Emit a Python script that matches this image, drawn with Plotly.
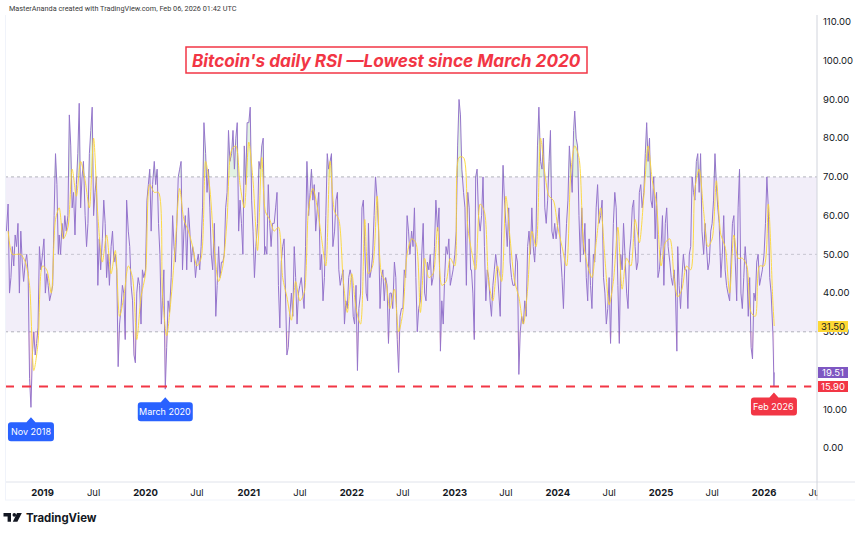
import numpy as np
import plotly.graph_objects as go

# ---------------- data ----------------
DAYS = [1, 6, 11, 16, 21, 26]          # sampling days of each month for RSI
MA_DAYS = [1, 16]                      # sampling days of each month for RSI-based MA

# daily RSI(14), sampled every ~5 days; 2018 starts on Aug 26
rsi_2018 = [56,
            63, 40, 44, 52, 47, 55,
            52, 58, 40, 56, 48, 43,
            48, 50, 45, 18, 10.5, 24,
            30, 24, 27, 31, 52, 46]
rsi_2019 = [50, 54, 40, 45, 42, 38,
            40, 42, 60, 76, 68, 50,
            55, 50, 58, 54, 60, 56,
            60, 86, 78, 62, 66, 55,
            68, 76, 89, 62, 70, 74,
            60, 52, 58, 76, 82, 88,
            60, 66, 70, 42, 54, 46,
            54, 64, 58, 44, 50, 42,
            52, 56, 48, 50, 46, 21,
            32, 36, 42, 40, 28, 64,
            56, 52, 42, 38, 24, 22,
            40, 44, 42, 32, 46, 44]
rsi_2020 = [46, 64, 68, 72, 56, 68,
            74, 68, 72, 58, 50, 32,
            38, 46, 15.2, 26, 38, 35,
            44, 60, 52, 48, 58, 70,
            72, 74, 46, 56, 60, 46,
            62, 56, 48, 52, 50, 44,
            48, 50, 46, 52, 62, 84,
            76, 66, 72, 62, 50, 46,
            58, 34, 42, 52, 44, 48,
            48, 50, 62, 66, 82, 74,
            76, 82, 72, 80, 84, 56,
            64, 58, 50, 78, 68, 84]
rsi_2021 = [84, 88, 64, 56, 44, 52,
            58, 74, 72, 78, 80, 50,
            52, 50, 68, 58, 52, 58,
            58, 62, 66, 42, 31, 48,
            52, 54, 40, 24, 26, 34,
            40, 34, 52, 44, 32, 40,
            42, 44, 40, 36, 52, 74,
            60, 66, 72, 64, 68, 56,
            62, 66, 46, 50, 38, 44,
            60, 76, 72, 74, 76, 52,
            56, 64, 66, 46, 42, 44,
            46, 32, 38, 36, 44, 46]
rsi_2022 = [44, 34, 32, 42, 20, 36,
            40, 62, 64, 52, 40, 38,
            58, 44, 46, 50, 60, 70,
            64, 56, 36, 44, 46, 38,
            44, 42, 27, 40, 40, 36,
            48, 44, 28, 19.5, 34, 36,
            36, 46, 44, 60, 56, 50,
            56, 52, 62, 44, 30, 36,
            38, 50, 58, 40, 38, 48,
            46, 50, 42, 44, 52, 64,
            56, 62, 25, 38, 32, 44,
            52, 50, 54, 42, 44, 46]
rsi_2023 = [50, 56, 78, 90, 86, 72,
            66, 62, 42, 66, 62, 46,
            46, 40, 28, 70, 72, 60,
            56, 60, 70, 52, 38, 46,
            44, 38, 34, 42, 46, 50,
            46, 40, 34, 56, 73, 64,
            58, 52, 62, 48, 44, 42,
            42, 50, 48, 19, 30, 34,
            32, 38, 34, 52, 56, 50,
            62, 52, 48, 56, 78, 88,
            74, 72, 80, 62, 58, 64,
            74, 82, 56, 54, 58, 54]
rsi_2024 = [58, 62, 50, 44, 36, 48,
            58, 64, 78, 72, 66, 82,
            87, 80, 78, 60, 48, 62,
            50, 58, 44, 38, 54, 42,
            36, 50, 48, 62, 68, 58,
            60, 64, 44, 40, 32, 36,
            44, 27, 44, 58, 66, 62,
            42, 27, 50, 46, 58, 50,
            40, 36, 50, 54, 62, 64,
            52, 46, 48, 66, 68, 62,
            66, 76, 84, 74, 80, 64,
            62, 70, 54, 66, 44, 46]
rsi_2025 = [52, 60, 42, 58, 62, 52,
            48, 44, 42, 46, 40, 25,
            52, 42, 36, 44, 50, 46,
            46, 36, 50, 52, 70, 66,
            64, 74, 76, 66, 76, 56,
            50, 58, 52, 46, 48, 56,
            58, 64, 76, 68, 62, 58,
            44, 50, 60, 46, 42, 40,
            38, 48, 58, 60, 48, 38,
            62, 72, 40, 36, 44, 52,
            46, 34, 44, 26, 23, 40,
            38, 48, 50, 42, 44, 46]
rsi_2026 = [50, 58, 70, 62, 44, 40,
            30, 24, 15.9, 19.51]
rsi_2026_tail_dates = ["2026-02-01", "2026-02-03", "2026-02-05", "2026-02-06"]

# RSI-based moving average, 1st and 16th of each month (2018 starts in September)
ma_2018 = [56, 50, 50, 50, 48, 42, 20, 27]
ma_2019 = [47, 46, 40, 59, 62, 54, 57, 72, 65, 74, 69, 62, 80, 60, 48, 55, 45, 51, 34, 39, 47, 44, 28, 39]
ma_2020 = [45, 68, 66, 66, 40, 29, 39, 53, 67, 59, 56, 52, 47, 49, 74, 67, 51, 43, 47, 59, 77, 78, 68, 62]
ma_2021 = [79, 69, 51, 75, 61, 59, 56, 57, 44, 39, 33, 43, 38, 40, 62, 67, 62, 54, 47, 74, 61, 59, 44, 35]
ma_2022 = [45, 36, 32, 59, 45, 47, 65, 45, 43, 36, 41, 30, 35, 50, 54, 53, 35, 49, 44, 45, 57, 42, 43, 49]
ma_2023 = [47, 75, 75, 57, 51, 46, 63, 61, 43, 38, 47, 43, 65, 54, 43, 39, 32, 41, 56, 52, 80, 71, 65, 64]
ma_2024 = [57, 52, 47, 71, 78, 75, 53, 47, 44, 53, 62, 49, 37, 43, 57, 41, 49, 47, 59, 53, 65, 78, 69, 63]
ma_2025 = [47, 53, 54, 44, 39, 41, 47, 46, 67, 72, 61, 52, 54, 69, 55, 52, 40, 55, 49, 49, 47, 35, 34, 47]
ma_2026 = [47, 63, 38, 31.5]
ma_2026_dates = ["2026-01-01", "2026-01-16", "2026-02-01", "2026-02-06"]

band_upper, band_middle, band_lower = 70, 50, 30
level_line = 15.90

price_ticks = list(range(0, 111, 10))
hidden_price_ticks = [20]              # covered by the last-value label in the reference
year_ticks = [str(y) for y in range(2019, 2027)]
month_tick = "Jul"

title_text = "Bitcoin's daily RSI \u2014Lowest since March 2020"
header_text = "MasterAnanda created with TradingView.com, Feb 06, 2026 01:42 UTC"
callouts = [("Nov 2018", 2018), ("March 2020", 2020), ("Feb 2026", 2026)]

# ---------------- build series ----------------
def grid(year, months, days):
    return [f"{year}-{m:02d}-{d:02d}" for m in months for d in days]

rsi_dates = (grid(2018, range(8, 13), DAYS)[-len(rsi_2018):]
             + sum([grid(y, range(1, 13), DAYS) for y in range(2019, 2026)], [])
             + grid(2026, [1], DAYS) + rsi_2026_tail_dates)
rsi = (rsi_2018 + rsi_2019 + rsi_2020 + rsi_2021 + rsi_2022 + rsi_2023
       + rsi_2024 + rsi_2025 + rsi_2026)
assert len(rsi_dates) == len(rsi)

ma_dates = (grid(2018, range(9, 13), MA_DAYS)
            + sum([grid(y, range(1, 13), MA_DAYS) for y in range(2019, 2026)], [])
            + ma_2026_dates)
ma = (ma_2018 + ma_2019 + ma_2020 + ma_2021 + ma_2022 + ma_2023
      + ma_2024 + ma_2025 + ma_2026)
assert len(ma_dates) == len(ma)

rsi_arr = np.array(rsi, dtype=float)

# ---------------- geometry ----------------
L, R, T, B = 5, 43, 15, 52
W, H = 860, 534
PW, PH = W - L - R, H - T - B
Y0, Y1 = -8.78, 111.8

PURPLE = "#7E57C2"
YELLOW = "#FDD835"
RED = "#F23645"
BLUE = "#2962FF"
TXT = "#131722"
FONT = "Inter, Roboto, sans-serif"

fig = go.Figure()

# overbought / oversold fills
fig.add_trace(go.Scatter(x=rsi_dates, y=[band_upper] * len(rsi), mode="lines",
                         line=dict(width=0), hoverinfo="skip"))
fig.add_trace(go.Scatter(x=rsi_dates, y=np.maximum(rsi_arr, band_upper), mode="lines",
                         line=dict(width=0), fill="tonexty",
                         fillcolor="rgba(76,175,80,0.16)", hoverinfo="skip"))
fig.add_trace(go.Scatter(x=rsi_dates, y=[band_lower] * len(rsi), mode="lines",
                         line=dict(width=0), hoverinfo="skip"))
fig.add_trace(go.Scatter(x=rsi_dates, y=np.minimum(rsi_arr, band_lower), mode="lines",
                         line=dict(width=0), fill="tonexty",
                         fillcolor="rgba(242,54,69,0.14)", hoverinfo="skip"))

fig.add_trace(go.Scatter(x=rsi_dates, y=rsi, mode="lines",
                         line=dict(color=PURPLE, width=1, simplify=False), opacity=0.8))
fig.add_trace(go.Scatter(x=ma_dates, y=ma, mode="lines", opacity=0.9,
                         line=dict(color=YELLOW, width=1, shape="spline", smoothing=0.8)))

shapes = []
# RSI band background
shapes.append(dict(type="rect", xref="paper", x0=0, x1=1, yref="y", y0=band_lower, y1=band_upper,
                   fillcolor="rgba(126,87,194,0.1)", line=dict(width=0), layer="below"))
for lv, col in [(band_upper, "rgba(120,123,134,0.55)"), (band_middle, "rgba(120,123,134,0.35)"),
                (band_lower, "rgba(120,123,134,0.55)")]:
    shapes.append(dict(type="line", xref="paper", x0=0, x1=1, yref="y", y0=lv, y1=lv,
                       line=dict(color=col, width=1, dash="3px,3px"), layer="below"))
# horizontal level line
shapes.append(dict(type="line", xref="paper", x0=0, x1=0.993, yref="y", y0=level_line, y1=level_line,
                   line=dict(color=RED, width=2, dash="9px,8px"), layer="above"))

def px_shape(path, color, line=None):
    return dict(type="path", xref="paper", yref="paper", xsizemode="pixel", ysizemode="pixel",
                xanchor=0, yanchor=0, path=path, fillcolor=color,
                line=line or dict(width=0), layer="above")

def P(x, y):
    return f"{x - L:.2f},{(H - B) - y:.2f}"

# cover for clipped "Jul" under price scale
shapes.append(px_shape(f"M{P(817.5, 483)} L{P(860, 483)} L{P(860, 499.5)} L{P(817.5, 499.5)} Z", "white"))
# frame lines
shapes.append(px_shape(f"M{P(5, 482)} L{P(855, 482)}", "rgba(0,0,0,0)", dict(color="#E0E3EB", width=1)))
shapes.append(px_shape(f"M{P(5, 500)} L{P(855, 500)}", "rgba(0,0,0,0)", dict(color="#F0F3FA", width=1)))
shapes.append(px_shape(f"M{P(5.5, 15)} L{P(5.5, 500)}", "rgba(0,0,0,0)", dict(color="#F0F3FA", width=1)))
shapes.append(px_shape(f"M{P(817, 15)} L{P(817, 500)}", "rgba(0,0,0,0)", dict(color="#D1D4DC", width=1)))

# title box
shapes.append(px_shape(f"M{P(186, 47)} L{P(587, 47)} L{P(587, 73)} L{P(186, 73)} Z", "white",
                       dict(color=RED, width=1.5)))

# TradingView logo glyph
shapes.append(px_shape(f"M{P(3.5, 513)} L{P(11, 513)} L{P(11, 521.7)} L{P(7.6, 521.7)} L{P(7.6, 516.4)} L{P(3.5, 516.4)} Z", TXT))
shapes.append(px_shape(f"M{P(17, 513)} L{P(21.8, 513)} L{P(17.4, 521.7)} L{P(12.8, 521.7)} Z", TXT))
shapes.append(dict(type="circle", xref="paper", yref="paper", xsizemode="pixel", ysizemode="pixel",
                   xanchor=0, yanchor=0, x0=14.3 - 1.8 - L, x1=14.3 + 1.8 - L,
                   y0=(H - B) - 514.9 - 1.8, y1=(H - B) - 514.9 + 1.8,
                   fillcolor=TXT, line=dict(width=0), layer="above"))

annotations = []

def callout(label, date, value, w, h, tip, color, tri_h=5, tri_w=4.5, r=3):
    yt = -(tip + tri_h)
    yb = yt - h
    hw = w / 2
    path = (f"M0,{-tip} L{tri_w},{yt} L{hw - r},{yt} Q{hw},{yt} {hw},{yt - r} "
            f"L{hw},{yb + r} Q{hw},{yb} {hw - r},{yb} L{-hw + r},{yb} Q{-hw},{yb} {-hw},{yb + r} "
            f"L{-hw},{yt - r} Q{-hw},{yt} {-hw + r},{yt} L{-tri_w},{yt} Z")
    shapes.append(dict(type="path", xref="x", yref="y", xsizemode="pixel", ysizemode="pixel",
                       xanchor=date, yanchor=value, path=path, fillcolor=color,
                       line=dict(width=0), layer="above"))
    annotations.append(dict(x=date, y=value, xref="x", yref="y", text=label, showarrow=False,
                            yshift=(yt + yb) / 2, font=dict(family=FONT, size=9, color="white"),
                            xanchor="center", yanchor="middle"))

def low_in_year(year):
    idx = [i for i, d in enumerate(rsi_dates) if d.startswith(str(year))]
    i = min(idx, key=lambda k: rsi[k])
    return rsi_dates[i], rsi[i]

d, v = low_in_year(2018)
callout(callouts[0][0], d, v, 46, 19, 10, BLUE)
d, v = low_in_year(2020)
callout(callouts[1][0], d, v, 55, 19, 8, BLUE)
d, v = low_in_year(2026)
callout(callouts[2][0], d, level_line, 46, 18, 6, RED)

# title
annotations.append(dict(xref="paper", yref="paper", x=(386.5 - L) / PW, y=((H - B) - 60.5) / PH,
                        text=f"<b><i>{title_text}</i></b>", showarrow=False,
                        font=dict(family="Inter, sans-serif", size=17.2, color=RED),
                        xanchor="center", yanchor="middle"))
# header
annotations.append(dict(xref="paper", yref="paper", x=(7 - L) / PW, y=((H - B) - 8.5) / PH,
                        text=header_text, showarrow=False,
                        font=dict(family="Roboto, sans-serif", size=7.3, color="#3a3a3a"),
                        xanchor="left", yanchor="middle"))
# logo text
annotations.append(dict(xref="paper", yref="paper", x=(23.5 - L) / PW, y=((H - B) - 517.5) / PH,
                        text="<b>TradingView</b>", showarrow=False,
                        font=dict(family=FONT, size=11.4, color=TXT),
                        xanchor="left", yanchor="middle"))

# price-scale labels
for val, bg, fg in [(ma[-1], YELLOW, TXT), (rsi[-1], PURPLE, "white"), (level_line, RED, "white")]:
    annotations.append(dict(xref="paper", yref="y", x=1, y=val, xanchor="left", yanchor="middle",
                            text=f"{val:.2f}", showarrow=False, bgcolor=bg, width=30, height=11,
                            borderpad=0, borderwidth=0, xshift=0.5,
                            font=dict(family=FONT, size=9.5, color=fg)))

# x ticks
tickvals, ticktext = [], []
for y in year_ticks:
    tickvals.append(f"{y}-01-01"); ticktext.append(f"<b>{y}</b>")
    tickvals.append(f"{y}-07-01"); ticktext.append(month_tick)

fig.update_layout(
    width=W, height=H, margin=dict(l=L, r=R, t=T, b=B, pad=0),
    paper_bgcolor="white", plot_bgcolor="white",
    showlegend=False, hovermode=False,
    font=dict(family=FONT, size=9.5, color=TXT),
    shapes=shapes, annotations=annotations,
    xaxis=dict(type="date", range=["2018-08-21", "2026-07-07 14:00"], showgrid=False,
               zeroline=False, showline=False, tickvals=tickvals, ticktext=ticktext,
               ticks="", ticklabelstandoff=3, tickfont=dict(size=9.5, color=TXT), fixedrange=True),
    yaxis=dict(side="right", range=[Y0, Y1], showgrid=False, zeroline=False, showline=False,
               tickvals=[t for t in price_ticks if t not in hidden_price_ticks],
               ticktext=[f"{t:.2f}" for t in price_ticks if t not in hidden_price_ticks],
               ticks="", ticklabelstandoff=5, tickfont=dict(size=9.5, color=TXT), fixedrange=True),
)

fig.write_html("out.html")
